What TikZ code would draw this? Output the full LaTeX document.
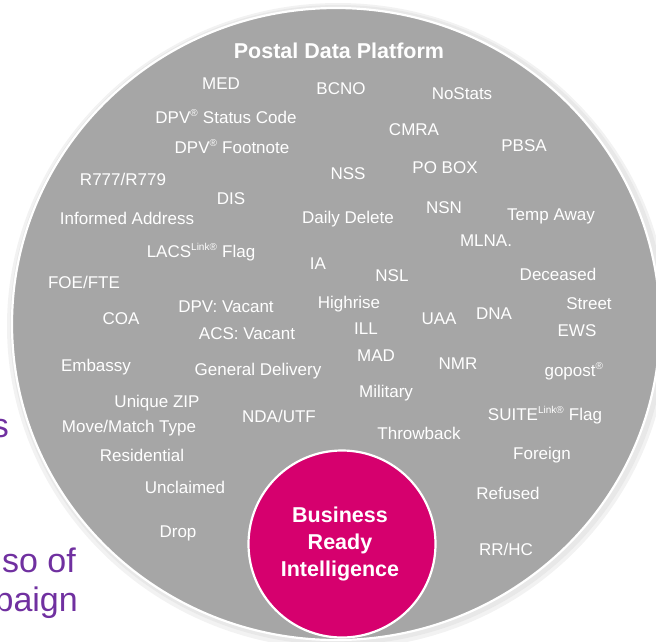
\documentclass[tikz,border=0pt]{standalone}
\usepackage{fontspec}
\setmainfont{Liberation Sans}
\definecolor{platgray}{HTML}{A6A6A6}
\definecolor{brimag}{HTML}{D6006E}
\definecolor{slidepurple}{HTML}{7030A0}
\newcommand{\regm}{\textsuperscript{\fontsize{10}{10}\selectfont ®}}
\newcommand{\linkm}{\textsuperscript{\fontsize{10}{10}\selectfont Link®}}
\begin{document}
\begin{tikzpicture}[x=1pt,y=-1pt,
  lbl/.style={text=white,anchor=base,inner sep=0pt,font=\fontsize{17}{20}\selectfont},
  bigtitle/.style={text=white,anchor=base,inner sep=0pt,font=\fontsize{21.5}{26}\selectfont\bfseries},
  bgtext/.style={text=slidepurple,anchor=base east,inner sep=0pt,font=\fontsize{34}{40}\selectfont}]
\useasboundingbox (0,0) rectangle (656,641);
\clip (0,0) rectangle (656,641);
% partially hidden slide text behind the circle
\node[bgtext] (t1) at (9,437) {s};
\node[bgtext] (t2) at (76,572) {so of};
\node[bgtext] (t3) at (78,611) {paign};
% halo and platform disc
\fill[black!5] (338,326) ellipse [x radius=331,y radius=323];
\fill[black!9] (338,325) ellipse [x radius=328,y radius=320];
\filldraw[fill=platgray,draw=white,line width=2.2] (336,324) ellipse [x radius=324,y radius=316];
\node[bigtitle] (title) at (339,58) {Postal Data Platform};
\node[lbl] (med) at (221,89) {MED};
\node[lbl] (bcno) at (341,94) {BCNO};
\node[lbl] (nostats) at (462,99) {NoStats};
\node[lbl] (dpvsc) at (226,123) {DPV\regm{} Status Code};
\node[lbl] (cmra) at (414,135) {CMRA};
\node[lbl] (dpvfn) at (232,153) {DPV\regm{} Footnote};
\node[lbl] (pbsa) at (524,151) {PBSA};
\node[lbl] (r777) at (123,185) {R777/R779};
\node[lbl] (nss) at (348,179) {NSS};
\node[lbl] (pobox) at (445,173) {PO BOX};
\node[lbl] (dis) at (231,204) {DIS};
\node[lbl] (inf) at (127,224) {Informed Address};
\node[lbl] (daily) at (348,223) {Daily Delete};
\node[lbl] (nsn) at (444,213) {NSN};
\node[lbl] (temp) at (551,220) {Temp Away};
\node[lbl] (mlna) at (486,246) {MLNA.};
\node[lbl] (lacs) at (201,257) {LACS\linkm{} Flag};
\node[lbl] (ia) at (318,269) {IA};
\node[lbl] (nsl) at (392,281) {NSL};
\node[lbl] (foe) at (84,288) {FOE/FTE};
\node[lbl] (dec) at (558,280) {Deceased};
\node[lbl] (dpvv) at (226,312) {DPV: Vacant};
\node[lbl] (high) at (349,308) {Highrise};
\node[lbl] (street) at (589,309) {Street};
\node[lbl] (coa) at (121,324) {COA};
\node[lbl] (uaa) at (439,324) {UAA};
\node[lbl] (dna) at (494,319) {DNA};
\node[lbl] (ill) at (366,334) {ILL};
\node[lbl] (acsv) at (247,339) {ACS: Vacant};
\node[lbl] (ews) at (577,336) {EWS};
\node[lbl] (mad) at (376,361) {MAD};
\node[lbl] (emb) at (96,371) {Embassy};
\node[lbl] (gen) at (258,375) {General Delivery};
\node[lbl] (nmr) at (458,369) {NMR};
\node[lbl] (gopost) at (574,376) {gopost\regm};
\node[lbl] (mil) at (386,397) {Military};
\node[lbl] (uzip) at (157,407) {Unique ZIP};
\node[lbl] (nda) at (279,422) {NDA/UTF};
\node[lbl] (suite) at (545,420) {SUITE\linkm{} Flag};
\node[lbl] (move) at (129,432) {Move/Match Type};
\node[lbl] (throw) at (419,439) {Throwback};
\node[lbl] (res) at (142,461) {Residential};
\node[lbl] (foreign) at (542,459) {Foreign};
\node[lbl] (uncl) at (185,493) {Unclaimed};
\node[lbl] (refused) at (508,499) {Refused};
\node[lbl] (drop) at (178,537) {Drop};
\node[lbl] (rrhc) at (506,555) {RR/HC};
% business ready intelligence
\node[circle,fill=brimag,draw=white,line width=2.2,minimum size=187,inner sep=0pt] (bri) at (342,544) {};
\node[text=white,align=center,inner sep=0pt,font=\fontsize{21.5}{27}\selectfont\bfseries] (britext) at (340,544) {Business\\Ready\\Intelligence};
\end{tikzpicture}
\end{document}
